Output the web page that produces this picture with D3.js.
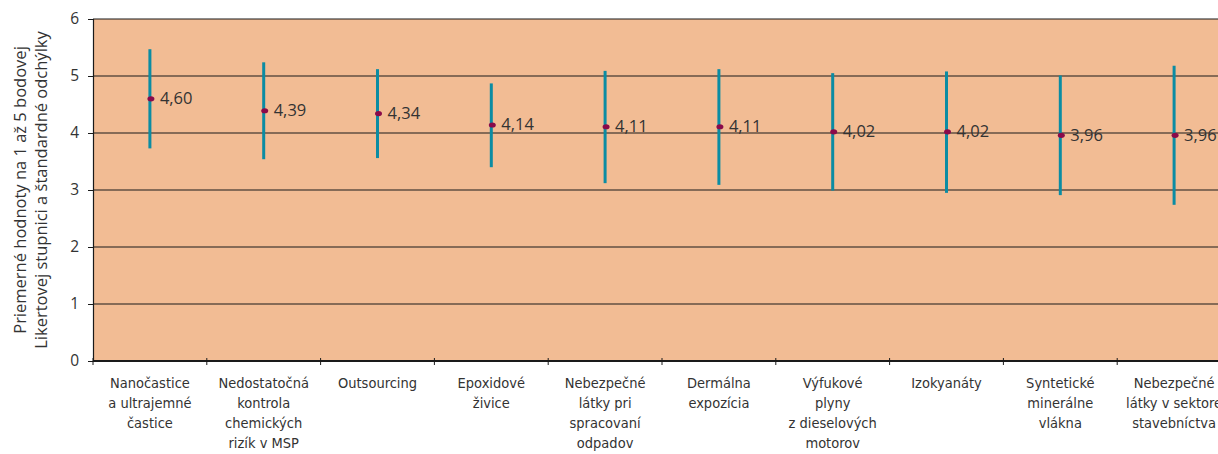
<!DOCTYPE html>
<html>
<head>
<meta charset="utf-8">
<script src="https://cdn.jsdelivr.net/npm/d3@7"></script>
<style>
  body { margin: 0; background: #fff; }
  svg { display: block; }
  .lbl { font-family: "Open Sans", "Noto Sans", sans-serif; fill: #333; }
  .cat { font-family: "Liberation Sans Narrow", "DejaVu Sans Condensed", "Roboto Condensed", sans-serif; fill: #333; }
</style>
</head>
<body>
<svg id="chart" width="1218" height="454"></svg>
<script>
// categories (line-broken as in the figure)
const categories = [
  ["Nanočastice", "a ultrajemné", "častice"],
  ["Nedostatočná", "kontrola", "chemických", "rizík v MSP"],
  ["Outsourcing"],
  ["Epoxidové", "živice"],
  ["Nebezpečné", "látky pri", "spracovaní", "odpadov"],
  ["Dermálna", "expozícia"],
  ["Výfukové", "plyny", "z dieselových", "motorov"],
  ["Izokyanáty"],
  ["Syntetické", "minerálne", "vlákna"],
  ["Nebezpečné", "látky v sektore", "stavebníctva"]
];
const means = [4.60, 4.39, 4.34, 4.14, 4.11, 4.11, 4.02, 4.02, 3.96, 3.96];
const upper = [5.47, 5.24, 5.12, 4.87, 5.09, 5.12, 5.05, 5.08, 5.01, 5.18];
const lower = [3.73, 3.54, 3.56, 3.40, 3.12, 3.09, 2.99, 2.95, 2.91, 2.74];
const yTicks = [0, 1, 2, 3, 4, 5, 6];
const yTitle = ["Priemerné hodnoty na 1 až 5 bodovej", "Likertovej stupnici a štandardné odchýlky"];

const svg = d3.select('#chart');
const plotL = 93, plotT = 19, plotB = 361, plotR = 1231;

const x = d3.scaleBand().domain(d3.range(categories.length)).range([plotL, plotR]);
const y = d3.scaleLinear().domain([0, 6]).range([plotB, plotT]);

// plot background
svg.append('rect')
  .attr('x', plotL).attr('y', plotT)
  .attr('width', plotR - plotL).attr('height', plotB - plotT)
  .attr('fill', '#F2BC94');

// gridlines
svg.append('g')
  .selectAll('line')
  .data(yTicks.filter(d => d > 0))
  .join('line')
  .attr('x1', plotL).attr('x2', plotR)
  .attr('y1', d => y(d)).attr('y2', d => y(d))
  .attr('stroke', '#1a1a1a').attr('stroke-width', 1.2);

// y axis
const yAxis = svg.append('g')
  .attr('transform', `translate(${plotL},0)`)
  .call(d3.axisLeft(y).tickValues(yTicks).tickSize(5).tickFormat(d3.format('d')));
yAxis.select('.domain').attr('stroke', '#1a1a1a').attr('stroke-width', 1.2);
yAxis.selectAll('.tick line').attr('stroke', '#1a1a1a');
yAxis.selectAll('.tick text')
  .attr('class', 'lbl')
  .attr('x', -14)
  .style('font-size', '15.5px');

// x axis
const bounds = d3.range(categories.length + 1).map(i => plotL + i * x.bandwidth());
svg.append('line')
  .attr('x1', plotL).attr('x2', plotR)
  .attr('y1', plotB).attr('y2', plotB)
  .attr('stroke', '#1a1a1a').attr('stroke-width', 2);
svg.append('g')
  .selectAll('line')
  .data(bounds)
  .join('line')
  .attr('x1', d => d).attr('x2', d => d)
  .attr('y1', plotB - 3).attr('y2', plotB + 4)
  .attr('stroke', '#1a1a1a').attr('stroke-width', 1);

// category labels
const catG = svg.append('g');
categories.forEach((lines, i) => {
  const t = catG.append('text')
    .attr('class', 'cat')
    .attr('text-anchor', 'middle')
    .style('font-size', '14.5px');
  lines.forEach((ln, j) => {
    t.append('tspan')
      .attr('x', x(i) + x.bandwidth() / 2)
      .attr('y', 388 + j * 20)
      .text(ln);
  });
});

// error bars
const marks = svg.append('g');
marks.selectAll('line')
  .data(means)
  .join('line')
  .attr('x1', (d, i) => x(i) + x.bandwidth() / 2)
  .attr('x2', (d, i) => x(i) + x.bandwidth() / 2)
  .attr('y1', (d, i) => y(upper[i]))
  .attr('y2', (d, i) => y(lower[i]))
  .attr('stroke', '#0B8CA3')
  .attr('stroke-width', 3);

// mean points
marks.selectAll('ellipse')
  .data(means)
  .join('ellipse')
  .attr('cx', (d, i) => x(i) + x.bandwidth() / 2 + 1)
  .attr('cy', d => y(d))
  .attr('rx', 3.5).attr('ry', 2.6)
  .attr('fill', '#8A0A4A');

// value labels
marks.selectAll('text')
  .data(means)
  .join('text')
  .attr('class', 'lbl')
  .attr('x', (d, i) => x(i) + x.bandwidth() / 2 + 10)
  .attr('y', d => y(d))
  .attr('dy', '0.32em')
  .style('font-size', '16.5px')
  .text(d => d3.format('.2f')(d).replace('.', ','));

// y title
const yt = svg.append('text')
  .attr('class', 'lbl')
  .attr('text-anchor', 'middle')
  .attr('transform', `translate(0,${(plotT + plotB) / 2}) rotate(-90)`)
  .style('font-size', '16.5px');
yTitle.forEach((ln, j) => {
  yt.append('tspan').attr('x', 0).attr('y', 26 + j * 21).text(ln);
});
</script>
</body>
</html>
